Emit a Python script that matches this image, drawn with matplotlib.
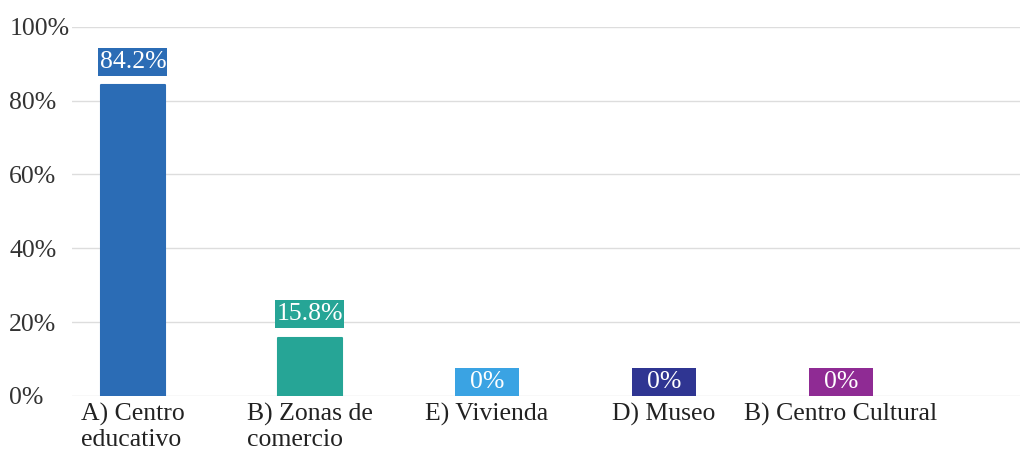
import matplotlib.pyplot as plt

# Respuestas por categoría (porcentaje)
categorias = ['A) Centro\neducativo', 'B) Zonas de\ncomercio', 'E) Vivienda',
              'D) Museo', 'B) Centro Cultural']
valores = [84.2, 15.8, 0, 0, 0]
etiquetas = ['84.2%', '15.8%', '0%', '0%', '0%']
colores = ['#2b6cb5', '#26a596', '#3aa3e3', '#2f3592', '#8f2b94']
yticks = [0, 20, 40, 60, 80, 100]

plt.rcParams['font.family'] = ['Liberation Serif', 'DejaVu Serif']

fig = plt.figure(figsize=(10.25, 4.63), dpi=100)
ax = fig.add_axes([0.07, 0.145, 0.925, 0.797])

x = range(len(valores))
ancho = 0.36
ax.bar(x, valores, width=ancho, color=colores, edgecolor=colores,
       linewidth=1.5, joinstyle='round', zorder=3)

# cajas con el valor encima de cada barra
alto_caja = 7.6
for xi, v, txt, c in zip(x, valores, etiquetas, colores):
    base = v + 2.6 if v > 0 else 0
    w = ancho + 0.03 if len(txt) > 3 else ancho
    ax.bar(xi, alto_caja, bottom=base, width=w, color=c, zorder=3)
    ax.text(xi, base + alto_caja / 2, txt, ha='center', va='center',
            color='white', fontsize=18.5, zorder=4)

ax.set_xlim(-0.345, 5.01)
ax.set_ylim(0, 100)
ax.set_yticks(yticks)
ax.set_yticklabels([f'{t}%' for t in yticks], fontsize=18.5, color='#333333')
for lab in ax.get_yticklabels():
    lab.set_horizontalalignment('left')
ax.tick_params(axis='y', length=0, pad=45)

ax.set_xticks(list(x))
ax.set_xticklabels(categorias, fontsize=18.5, color='#222222',
                   multialignment='left', va='top')
ax.tick_params(axis='x', length=0, pad=5)

ax.grid(axis='y', color='#dddddd', linewidth=1, zorder=0)
for s in ax.spines.values():
    s.set_visible(False)

fig.savefig('out.png', dpi=100)
